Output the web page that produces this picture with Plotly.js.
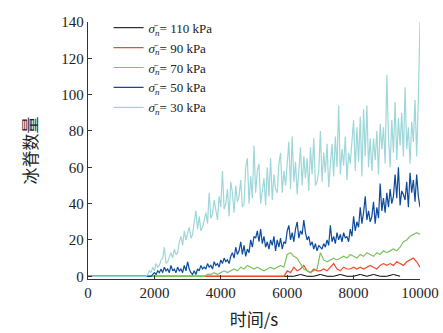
<!DOCTYPE html>
<html>
<head>
<meta charset="utf-8">
<script src="https://cdn.plot.ly/plotly-3.0.1.min.js"></script>
<style>
html,body{margin:0;padding:0;background:#fff;}
#chart{width:443px;height:333px;}
</style>
</head>
<body>
<div id="chart"></div>
<script>
// Series names (legend order)
const seriesNames = ["110 kPa", "90 kPa", "70 kPa", "50 kPa", "30 kPa"];

// Each series: value at t = 0, then samples from start time with fixed step (s)
const black110Start = 6000, black110Step = 200;
const black110 = [0,0,1,0,0,1,0,0,1,0,0,1,0,1,0,0,1,0];

const red90Start = 5900, red90Step = 100;
const red90 = [0,
  3,2,5,3,4,6,3,2,4,3,
  3,4,3,5,7,4,3,5,4,4,
  5,4,5,4,5,6,5,4,6,7,
  6,7,6,8,7,6,8,9,10,8,
  5];

const green70Start = 3500, green70Step = 100;
const green70 = [0,1,1,2,1,
  2,3,2,3,4,3,5,4,6,5,
  4,5,4,3,4,5,4,5,6,5,
  12,13,11,10,7,4,3,2,3,4,
  13,9,8,9,10,9,10,11,10,12,
  11,10,12,11,13,12,11,13,12,14,
  13,14,15,14,16,19,20,22,23,24,
  23];

const blue50Start = 1900, blue50Step = 50;
const blue50 = [0,1,2,
  1,3,2,4,2,5,3,4,2,6,
  3,4,2,5,3,4,2,6,3,8,
  4,2,1,3,1,4,3,6,4,5,
  4,7,5,6,4,8,6,7,5,9,
  7,10,8,9,7,11,13,10,16,12,
  14,19,12,17,11,15,13,20,16,22,
  21,25,19,26,18,22,16,19,15,20,
  17,22,14,20,16,21,15,19,18,25,
  28,20,24,19,26,30,21,25,23,31,
  24,20,22,17,19,15,18,14,17,16,
  15,18,16,20,17,28,19,22,18,24,
  20,23,19,24,21,22,19,26,22,33,
  25,30,27,38,29,35,44,31,36,30,
  33,41,29,38,32,51,36,43,35,46,
  38,48,40,44,56,43,60,39,47,45,
  42,52,38,57,46,53,41,56,44,38];

const cyan30Start = 1750, cyan30Step = 50;
const cyan30 = [0,1,3,2,5,3,
  7,5,6,9,10,16,7,8,11,13,
  10,15,12,13,19,22,17,25,20,24,
  27,21,23,30,36,26,33,25,27,31,
  35,29,46,32,34,42,36,31,44,38,
  58,37,40,48,33,52,46,35,50,41,
  44,53,38,40,60,65,40,55,43,72,
  46,58,62,40,47,54,39,60,44,65,
  42,56,48,46,62,68,46,58,50,61,
  74,48,77,52,63,45,60,71,50,66,
  54,65,47,71,56,76,50,52,58,80,
  52,68,57,73,49,64,73,55,77,60,
  94,56,70,61,77,53,68,62,74,86,
  58,82,63,88,55,92,66,94,60,76,
  58,76,64,80,56,84,70,82,62,111,
  77,60,86,68,96,64,87,72,90,66,
  104,70,82,62,85,74,97,66,98,140];

const xTickVals = [0,2000,4000,6000,8000,10000];
const yTickVals = [0,20,40,60,80,100,120,140];

const colors = ["#000000", "#ee4b2b", "#7dc35b", "#0c4a9e", "#9dd7d9"];
const widths = [1, 1.2, 1.2, 1.2, 1.2];

function series(start, step, vals) {
  const x = [0], y = [0];
  vals.forEach((v, i) => { x.push(start + i * step); y.push(v); });
  return {x, y};
}

const all = [
  series(black110Start, black110Step, black110),
  series(red90Start, red90Step, red90),
  series(green70Start, green70Step, green70),
  series(blue50Start, blue50Step, blue50),
  series(cyan30Start, cyan30Step, cyan30)
];

const serif = 'Liberation Serif';

const traces = all.map((s, i) => ({
  x: s.x, y: s.y, type: 'scatter', mode: 'lines',
  line: {color: colors[i], width: widths[i], shape: 'linear'},
  name: '<i>σ̄</i><sub><i>n</i></sub>= ' + seriesNames[i]
}));

const axisFont = {family: serif, size: 15, color: '#222'};
const cjkFont = {family: 'Noto Sans CJK SC', size: 17, color: '#222'};

const layout = {
  width: 443, height: 333,
  margin: {l: 88, r: 23, t: 22, b: 54},
  paper_bgcolor: '#fff', plot_bgcolor: '#fff',
  font: {family: serif},
  showlegend: true,
  legend: {x: 0.062, y: 1.036, xanchor: 'left', yanchor: 'top', bgcolor: 'rgba(0,0,0,0)',
           font: {family: serif, size: 13, color: '#222'},
           tracegroupgap: 0},
  xaxis: {range: [0, 10000], tickvals: xTickVals, ticktext: xTickVals.map(String),
          ticks: 'inside', ticklen: 4, tickcolor: '#333', showline: true, linecolor: '#333', linewidth: 1.3,
          showgrid: false, zeroline: false, tickfont: axisFont,
          title: {text: '时间/s', font: cjkFont, standoff: 13}},
  yaxis: {range: [-1.5, 140], tickvals: yTickVals, ticks: 'inside', ticklen: 4, tickcolor: '#333',
          showline: true, linecolor: '#333', linewidth: 1.3, showgrid: false, zeroline: false, tickfont: axisFont,
          title: {text: '冰脊数量', font: cjkFont, standoff: 19}}
};

Plotly.newPlot('chart', traces, layout, {displayModeBar: false, staticPlot: true});
</script>
</body>
</html>
